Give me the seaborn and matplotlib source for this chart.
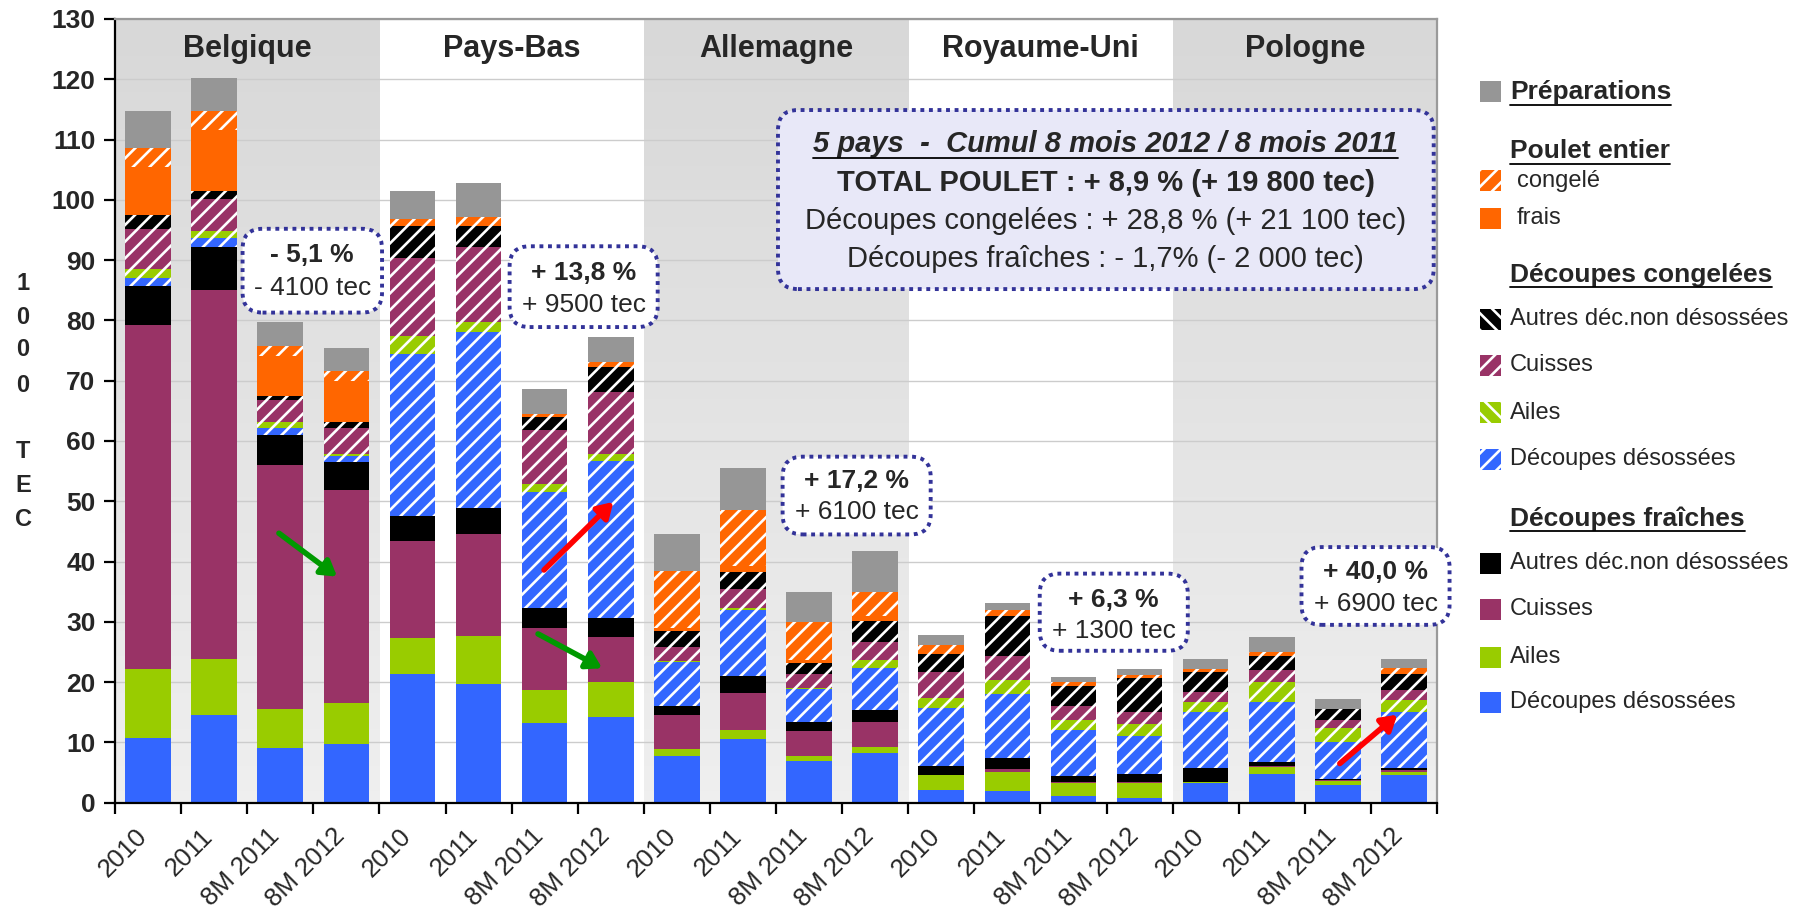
import matplotlib
matplotlib.use("Agg")
import matplotlib.pyplot as plt
import seaborn as sns
import numpy as np
import pandas as pd
from matplotlib.patches import Rectangle, FancyBboxPatch
from matplotlib.lines import Line2D
from matplotlib.colors import LinearSegmentedColormap
from matplotlib.transforms import ScaledTranslation

sns.set_style("ticks")
plt.rcParams['font.family'] = ['Liberation Sans', 'DejaVu Sans']
plt.rcParams['hatch.linewidth'] = 1.9

countries = ["Belgique", "Pays-Bas", "Allemagne", "Royaume-Uni", "Pologne"]
periods = ["2010", "2011", "8M 2011", "8M 2012"]

# 1000 tec, stack order bottom -> top
fr_desossees = [10.8, 14.5, 9.1, 9.7, 21.4, 19.7, 13.2, 14.2, 7.8, 10.5, 7.0, 8.3, 2.1, 1.9, 1.1, 0.8, 3.3, 4.8, 2.9, 4.6]
fr_ailes = [11.4, 9.4, 6.5, 6.8, 5.9, 8.0, 5.5, 5.8, 1.1, 1.5, 0.7, 0.9, 2.5, 3.2, 2.2, 2.5, 0.2, 1.2, 0.7, 0.5]
fr_cuisses = [57.1, 61.2, 40.5, 35.3, 16.1, 16.8, 10.3, 7.5, 5.7, 6.2, 4.2, 4.2, 0.0, 0.5, 0.2, 0.2, 0.0, 0.1, 0.1, 0.4]
fr_autres = [6.4, 7.1, 4.9, 4.7, 4.2, 4.4, 3.3, 3.2, 1.5, 2.8, 1.5, 1.9, 1.5, 1.8, 0.9, 1.3, 2.2, 0.7, 0.2, 0.2]
cg_desossees = [1.4, 1.4, 1.2, 1.0, 26.9, 29.2, 19.3, 25.9, 7.3, 11.0, 5.4, 7.1, 9.6, 10.6, 7.6, 6.3, 9.3, 9.9, 6.2, 9.3]
cg_ailes = [1.4, 1.3, 0.9, 0.3, 2.9, 1.6, 1.3, 1.3, 0.1, 0.3, 0.2, 1.2, 1.7, 2.3, 1.7, 2.0, 1.7, 3.4, 2.3, 2.0]
cg_cuisses = [6.7, 5.3, 3.7, 4.4, 13.0, 12.4, 9.0, 10.3, 2.4, 3.2, 2.3, 3.1, 4.3, 4.0, 2.4, 2.0, 1.6, 1.9, 1.3, 1.7]
cg_autres = [2.3, 1.3, 0.7, 1.0, 5.2, 3.5, 2.1, 4.0, 2.6, 2.7, 1.9, 3.5, 2.9, 6.6, 3.3, 5.6, 3.4, 2.3, 1.8, 2.6]
entier_frais = [8.0, 10.1, 6.6, 6.8, 0.0, 0.0, 0.0, 0.0, 0.4, 1.0, 0.5, 0.7, 0.0, 0.0, 0.0, 0.0, 0.0, 0.0, 0.0, 0.0]
entier_congele = [3.1, 3.1, 1.6, 1.6, 1.3, 1.6, 0.5, 0.9, 9.6, 9.4, 6.3, 4.0, 1.5, 1.1, 0.7, 0.4, 0.5, 0.7, 0.0, 1.0]
preparations = [6.1, 5.5, 4.1, 3.9, 4.6, 5.6, 4.1, 4.1, 6.1, 7.0, 5.0, 6.8, 1.7, 1.1, 0.7, 1.1, 1.6, 2.5, 1.7, 1.5]

BLUE, GREEN, MAROON, BLACK = "#3366FF", "#99CC00", "#993366", "#000000"
ORANGE, GRAY = "#FF6600", "#969696"

layers = [
    ("fr_desossees", fr_desossees, BLUE, None),
    ("fr_ailes", fr_ailes, GREEN, None),
    ("fr_cuisses", fr_cuisses, MAROON, None),
    ("fr_autres", fr_autres, BLACK, None),
    ("cg_desossees", cg_desossees, BLUE, "//"),
    ("cg_ailes", cg_ailes, GREEN, "//"),
    ("cg_cuisses", cg_cuisses, MAROON, "//"),
    ("cg_autres", cg_autres, BLACK, "//"),
    ("entier_frais", entier_frais, ORANGE, None),
    ("entier_congele", entier_congele, ORANGE, "//"),
    ("preparations", preparations, GRAY, None),
]

keys = [f"{c} {p}" for c in countries for p in periods]
df = pd.DataFrame({"bar": keys})
running = np.zeros(len(keys))
for name, vals, _, _ in layers:
    running = running + np.array(vals)
    df[name] = running

W, H = 1813, 909
fig = plt.figure(figsize=(W / 100, H / 100), dpi=100)
ax = fig.add_axes([115 / W, 1 - 802.7 / H, (1437 - 115) / W, (802.7 - 19) / H])

# shaded country bands
cmap = LinearSegmentedColormap.from_list("band", ["#d8d8d8", "#efefef"])
grad = np.linspace(0, 1, 64).reshape(-1, 1)
for k in (0, 2, 4):
    ax.imshow(grad, extent=(4 * k - 0.5, 4 * k + 3.5, 0, 130), aspect="auto",
              cmap=cmap, zorder=0, vmin=0, vmax=1)

# stacked bars: draw cumulative totals from top layer down
for name, _, color, hatch in reversed(layers):
    sns.barplot(data=df, x="bar", y=name, order=keys, color=color, saturation=1,
                width=0.69, errorbar=None, hatch=hatch,
                edgecolor="white" if hatch else color, linewidth=0, ax=ax)

ax.set_xlim(-0.5, 19.5)
ax.set_ylim(0, 130)
ax.set_xlabel("")
ax.set_ylabel("")
ax.set_axisbelow(True)
ax.yaxis.grid(True, color="#cccccc", lw=1)
ax.xaxis.grid(False)

for s in ("left", "bottom"):
    ax.spines[s].set_color("black")
    ax.spines[s].set_linewidth(1.6)
for s in ("top", "right"):
    ax.spines[s].set_visible(True)
    ax.spines[s].set_color("#9a9a9a")
    ax.spines[s].set_linewidth(1.6)

ax.set_xticks(range(20))
ax.set_xticklabels(periods * 5, rotation=45, ha="right", va="baseline",
                   rotation_mode="anchor", fontsize=18.5)
shift = ScaledTranslation(-6 / 72, 0, fig.dpi_scale_trans)
for lab in ax.get_xticklabels():
    lab.set_transform(lab.get_transform() + shift)
ax.set_xticks(np.arange(-0.5, 20, 1), minor=True)
ax.tick_params(axis="x", which="major", length=0, pad=25)
ax.tick_params(axis="x", which="minor", length=8, width=1.6, direction="out", color="black")
ax.set_yticks(range(0, 131, 10))
ax.set_yticklabels([str(v) for v in range(0, 131, 10)], fontsize=19, fontweight="bold")
ax.tick_params(axis="y", length=8, width=1.6, direction="out", pad=6, color="black")

for i, c in enumerate(countries):
    ax.text(4 * i + 1.5, 125.1, c, ha="center", va="center", fontsize=22, fontweight="bold")

# y label, one character per line
for ch, yy in zip("1000TEC", [283, 317, 350, 385, 452, 485, 520]):
    fig.text(23 / W, 1 - yy / H, ch, ha="center", va="center", fontsize=17, fontweight="bold")

# arrows
def arrow(x0, y0, x1, y1, color):
    ax.annotate("", xy=(x1, y1), xytext=(x0, y0), zorder=6,
                arrowprops=dict(arrowstyle="-|>,head_length=0.9,head_width=0.55",
                                lw=4, color=color, shrinkA=0, shrinkB=0))

arrow(1.98, 44.7, 2.86, 37.5, "#009900")
arrow(5.99, 38.6, 7.04, 49.9, "#FF0000")
arrow(5.90, 28.0, 6.87, 22.3, "#009900")
arrow(18.03, 6.5, 18.90, 14.6, "#FF0000")

# annotation boxes
def box(x0, x1, y0, y1, face):
    (a, b) = ax.transData.transform((x0, y0)) / fig.dpi
    (c, d) = ax.transData.transform((x1, y1)) / fig.dpi
    p = FancyBboxPatch((a, b), c - a, d - b, boxstyle="round,pad=0,rounding_size=0.2",
                       transform=fig.dpi_scale_trans, fc=face, ec="#333399", lw=2.8,
                       ls=(0, (1, 1.2)), zorder=7, clip_on=False)
    ax.add_patch(p)

small_boxes = [
    (1.43, 3.54, 81.3, 95.2, "- 5,1 %", "- 4100 tec", 90.8, 85.4),
    (5.47, 7.71, 78.9, 92.3, "+ 13,8 %", "+ 9500 tec", 87.9, 82.5),
    (9.60, 11.84, 44.5, 57.4, "+ 17,2 %", "+ 6100 tec", 53.4, 48.2),
    (13.49, 15.73, 25.2, 38.0, "+ 6,3 %", "+ 1300 tec", 33.6, 28.4),
    (17.45, 19.69, 29.5, 42.4, "+ 40,0 %", "+ 6900 tec", 38.2, 33.0),
]
for x0, x1, y0, y1, t1, t2, ya, yb in small_boxes:
    box(x0, x1, y0, y1, "white")
    xc = (x0 + x1) / 2
    ax.text(xc, ya, t1, ha="center", va="center", fontsize=19, fontweight="bold", zorder=8, clip_on=False)
    ax.text(xc, yb, t2, ha="center", va="center", fontsize=19, zorder=8, clip_on=False)

box(9.53, 19.45, 85.2, 114.9, "#E8E8F8")
big_lines = [
    ("5 pays  -  Cumul 8 mois 2012 / 8 mois 2011", 109.2, "bold", "italic"),
    ("TOTAL POULET : + 8,9 % (+ 19 800 tec)", 102.85, "bold", "normal"),
    ("Découpes congelées : + 28,8 % (+ 21 100 tec)", 96.5, "normal", "normal"),
    ("Découpes fraîches : - 1,7% (- 2 000 tec)", 90.2, "normal", "normal"),
]
underlined = []
for txt, yy, fw, fs in big_lines:
    t = ax.text(14.49, yy, txt, ha="center", va="center", fontsize=21, fontweight=fw,
                fontstyle=fs, zorder=8, clip_on=False)
    if fs == "italic":
        underlined.append(t)

# legend, drawn by hand
def swatch(y, color, hatch=None):
    fig.add_artist(Rectangle((1480 / W, 1 - (y + 10.5) / H), 21 / W, 21 / H,
                             transform=fig.transFigure, fc=color,
                             ec="white" if hatch else color, lw=0, hatch=hatch))

def header(y, txt):
    t = fig.text(1510 / W, 1 - y / H, txt, ha="left", va="center", fontsize=19, fontweight="bold")
    underlined.append(t)

def item(y, txt, x=1510):
    fig.text(x / W, 1 - y / H, txt, ha="left", va="center", fontsize=17)

swatch(91.5, GRAY)
header(92.5, "Préparations")
header(151.5, "Poulet entier")
swatch(180.5, ORANGE, "//")
item(181.5, "congelé", 1517)
swatch(218.5, ORANGE)
item(218.5, "frais", 1517)
header(275, "Découpes congelées")
swatch(319, BLACK, "\\\\")
item(319, "Autres déc.non désossées")
swatch(365.4, MAROON, "//")
item(365.4, "Cuisses")
swatch(412.8, GREEN, "\\\\")
item(412.8, "Ailes")
swatch(459, BLUE, "//")
item(459, "Découpes désossées")
header(519, "Découpes fraîches")
swatch(563, BLACK)
item(563, "Autres déc.non désossées")
swatch(609, MAROON)
item(609, "Cuisses")
swatch(657, GREEN)
item(657, "Ailes")
swatch(702, BLUE)
item(702, "Découpes désossées")

fig.canvas.draw()
inv = fig.transFigure.inverted()
for t in underlined:
    bb = t.get_window_extent()
    (x0, y0), (x1, _) = inv.transform([(bb.x0, bb.y0), (bb.x1, bb.y0)])
    fig.add_artist(Line2D([x0, x1], [y0, y0], transform=fig.transFigure,
                          color="black", lw=1.3, zorder=9))

fig.savefig("out.png", dpi=100)
